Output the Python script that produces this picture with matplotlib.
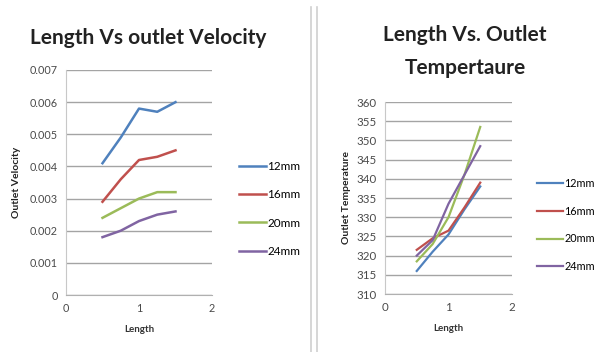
import numpy as np
import matplotlib.pyplot as plt
from matplotlib.lines import Line2D

# pipe length (x) shared by both charts
length = [0.5, 0.75, 1.0, 1.25, 1.5]
series_names = ['12mm', '16mm', '20mm', '24mm']
colors = ['#4F81BD', '#C0504D', '#9BBB59', '#8064A2']

# outlet velocity per diameter
vel_12 = [0.0041, 0.0049, 0.0058, 0.0057, 0.0060]
vel_16 = [0.0029, 0.0036, 0.0042, 0.0043, 0.0045]
vel_20 = [0.0024, 0.0027, 0.0030, 0.0032, 0.0032]
vel_24 = [0.0018, 0.0020, 0.0023, 0.0025, 0.0026]

# outlet temperature per diameter
temp_12 = [316, 321, 325.5, 332, 338]
temp_16 = [321.5, 324.5, 326.5, 332.5, 339]
temp_20 = [318.5, 323, 330, 341, 353.5]
temp_24 = [320, 324, 333.5, 341, 348.5]

vel_ticks = [0, 0.001, 0.002, 0.003, 0.004, 0.005, 0.006, 0.007]
vel_tick_labels = ['0', '0.001', '0.002', '0.003', '0.004', '0.005', '0.006', '0.007']
temp_ticks = [310, 315, 320, 325, 330, 335, 340, 345, 350, 355, 360]
x_ticks = [0, 1, 2]

plt.rcParams['font.family'] = ['Lato', 'DejaVu Sans']

fig = plt.figure(figsize=(5.98, 3.52), dpi=100)
fig.patch.set_facecolor('white')

W, H = 598.0, 352.0


def fig_box(x0, x1, y_top, y_bot):
	return [x0 / W, 1 - y_bot / H, (x1 - x0) / W, (y_bot - y_top) / H]


def style_axes(ax, size):
	ax.grid(True, axis='y', color='#a4a4a4', linewidth=1.0)
	ax.set_axisbelow(True)
	for side in ['top', 'right']:
		ax.spines[side].set_visible(False)
	ax.spines['left'].set_color('#c8c8c8')
	ax.spines['bottom'].set_color('#b0b0b0')
	ax.tick_params(axis='both', length=0, labelsize=size, colors='#4a4a4a', pad=6)
	ax.set_xlim(0, 2)
	ax.set_xticks(x_ticks)


# left chart: velocity
ax1 = fig.add_axes(fig_box(66, 212, 70, 295))
for vals, name, c in zip([vel_12, vel_16, vel_20, vel_24], series_names, colors):
	ax1.plot(length, vals, color=c, linewidth=1.8, label=name)
style_axes(ax1, 7.8)
ax1.set_ylim(0, 0.007)
ax1.set_yticks(vel_ticks)
ax1.set_yticklabels(vel_tick_labels)
ax1.set_xlabel('Length', fontsize=7, fontweight='bold', color='#333333', labelpad=8)
ax1.set_ylabel('Outlet Velocity', fontsize=7.5, fontweight='bold', color='#222222', labelpad=6)
fig.text(148 / W, 1 - 38 / H, 'Length Vs outlet Velocity', ha='center', va='center',
	fontsize=15, fontweight='bold', color='#222222')
fig.legend(*ax1.get_legend_handles_labels(), loc='center left',
	bbox_to_anchor=(233 / W, 1 - 209 / H), frameon=False, fontsize=8.5,
	handlelength=2.3, handletextpad=0.1, labelspacing=1.45, borderpad=0)

# right chart: temperature
ax2 = fig.add_axes(fig_box(385, 512, 102, 294))
for vals, name, c in zip([temp_12, temp_16, temp_20, temp_24], series_names, colors):
	ax2.plot(length, vals, color=c, linewidth=1.6, label=name)
style_axes(ax2, 8.3)
ax2.set_ylim(310, 360)
ax2.set_yticks(temp_ticks)
ax2.set_xlabel('Length', fontsize=7, fontweight='bold', color='#333333', labelpad=8)
ax2.set_ylabel('Outlet Temperature', fontsize=7.5, fontweight='bold', color='#222222', labelpad=4)
fig.text(465 / W, 1 - 35 / H, 'Length Vs. Outlet', ha='center', va='center',
	fontsize=15, fontweight='bold', color='#222222')
fig.text(465 / W, 1 - 68 / H, 'Tempertaure', ha='center', va='center',
	fontsize=15, fontweight='bold', color='#222222')
fig.legend(*ax2.get_legend_handles_labels(), loc='center left',
	bbox_to_anchor=(532 / W, 1 - 225 / H), frameon=False, fontsize=7.8,
	handlelength=2.4, handletextpad=0.1, labelspacing=1.55, borderpad=0)

# double divider between the two charts
for xp in [310.5, 316.5]:
	fig.add_artist(Line2D([xp / W, xp / W], [0, 1 - 7 / H], transform=fig.transFigure,
		color='#d0d0d0', linewidth=1.2))

fig.savefig('out.png', dpi=100)
